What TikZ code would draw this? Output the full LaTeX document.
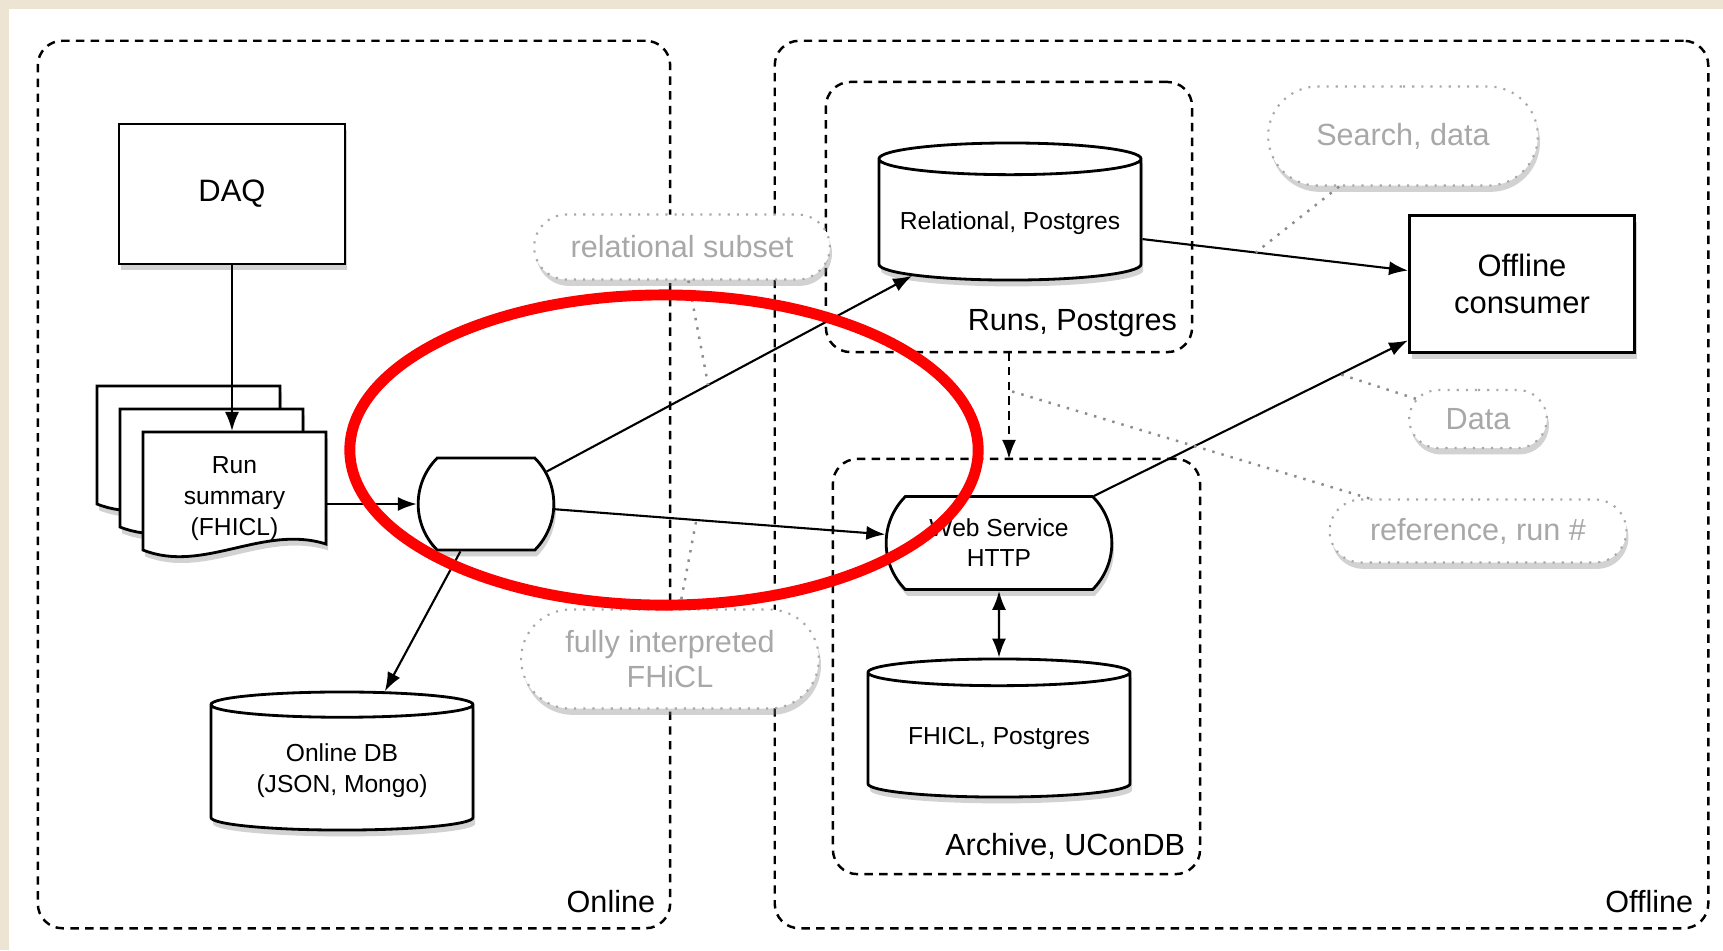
\documentclass[tikz,border=0pt]{standalone}
\usepackage{fontspec}
\setmainfont{Liberation Sans}
\usepackage{tikz}
\usetikzlibrary{calc,shapes.geometric,shapes.misc,shadows,arrows.meta,positioning}
\definecolor{mybeige}{RGB}{238,228,212}
\definecolor{mynotegray}{RGB}{168,168,168}
\definecolor{mylinkgray}{RGB}{140,140,140}
\tikzset{myshadow/.style={drop shadow={shadow xshift=0.6pt,shadow yshift=-1.8pt,opacity=0.35}}}
\tikzstyle{groupbox}=[draw,dash pattern=on 2.4pt off 1.8pt,line width=0.7pt,rounded corners=7pt,inner sep=0pt,outer sep=0pt]
\tikzstyle{grouplabel}=[inner sep=0pt,font=\fontsize{8.7}{10}\selectfont]
\tikzstyle{block}=[draw,fill=white,line width=0.8pt,align=center,myshadow,font=\fontsize{8.8}{10.3}\selectfont]
\tikzstyle{database}=[draw,fill=white,line width=0.8pt,cylinder,shape border rotate=90,aspect=0.13,anchor=shape center,align=center,myshadow,font=\fontsize{7}{9}\selectfont]
\tikzstyle{service}=[draw,fill=white,line width=0.8pt,rounded rectangle,rounded rectangle arc length=90,align=center,myshadow,font=\fontsize{7}{8.5}\selectfont]
\tikzstyle{notepill}=[draw=mynotegray,dotted,line width=0.6pt,fill=white,rounded rectangle,text=mynotegray,align=center,myshadow,font=\fontsize{8.7}{9.7}\selectfont]
\tikzstyle{docpage}=[draw,fill=white,line width=0.8pt,myshadow]
\tikzstyle{link}=[draw=mylinkgray,dotted,line width=0.7pt]

\begin{document}
\begin{tikzpicture}[x=0.01cm,y=-0.01cm,>={Latex[length=5.4pt,width=4pt]},line width=0.6pt]
\fill[mybeige] (0,0) rectangle (1723,950);
\fill[white] (9,9) rectangle (1723,950);
\useasboundingbox (0,0) rectangle (1723,950);
% areas
\node[groupbox,minimum width=6.32cm,minimum height=8.87cm] (online) at (354,484.5) {};
\node[groupbox,minimum width=9.33cm,minimum height=8.87cm] (offline) at (1241.5,484.5) {};
\node[groupbox,minimum width=3.66cm,minimum height=2.70cm] (runs) at (1009,217) {};
\node[groupbox,minimum width=3.67cm,minimum height=4.15cm] (archive) at (1016.5,666.5) {};
\node[grouplabel,anchor=south east] (onlinelbl) at ($(online.south east)+(-14,-14)$) {Online};
\node[grouplabel,anchor=south east] (offlinelbl) at ($(offline.south east)+(-14,-14)$) {Offline};
\node[grouplabel,anchor=south east] (runslbl) at ($(runs.south east)+(-14,-14)$) {Runs, Postgres};
\node[grouplabel,anchor=south east] (archivelbl) at ($(archive.south east)+(-14,-14)$) {Archive, UConDB};
% online side
\node[block,minimum width=2.26cm,minimum height=1.40cm] (daq) at (232,194) {DAQ};
\foreach \d in {46,23,0}{
  \pgfmathsetmacro\px{143-\d}
  \pgfmathsetmacro\py{432-\d}
  \draw[docpage] (\px,\py) -- (\px+183,\py) -- (\px+183,\py+112) .. controls (\px+120,\py+92) and (\px+60,\py+142) .. (\px,\py+118) -- cycle;
}
\node[minimum width=1.83cm,minimum height=1.34cm,align=center,font=\fontsize{7}{8.8}\selectfont] (runsum) at (234.5,499) {Run\\summary\\(FHICL)};
\node[service,minimum width=1.59cm,minimum height=0.92cm] (feeder) at (486,504) {};
\node[database,minimum width=2.62cm,minimum height=1.38cm] (onlinedb) at (342,761) {Online DB\\(JSON, Mongo)};
% offline side
\node[database,minimum width=2.62cm,minimum height=1.37cm] (reldb) at (1010,211.5) {Relational, Postgres};
\node[service,minimum width=2.49cm,minimum height=0.93cm] (websvc) at (999,543) {Web Service\\HTTP};
\node[database,minimum width=2.62cm,minimum height=1.38cm] (fhicldb) at (999,728) {FHICL, Postgres};
\node[block,minimum width=2.25cm,minimum height=1.37cm] (consumer) at (1522,284) {Offline\\consumer};
% notes
\node[notepill,minimum width=3.19cm,minimum height=0.65cm] (relnote) at (682,247) {relational subset};
\node[notepill,minimum width=3.21cm,minimum height=0.99cm] (fullnote) at (670,659) {fully interpreted\\FHiCL};
\node[notepill,minimum width=2.93cm,minimum height=0.99cm] (searchnote) at (1403,136) {Search, data};
\node[notepill,minimum width=1.61cm,minimum height=0.58cm] (datanote) at (1478,419) {Data};
\node[notepill,minimum width=3.20cm,minimum height=0.63cm] (refnote) at (1478,531) {reference, run \#};
% flows
\draw[->] (daq) -- (daq |- runsum.north);
\draw[->] (runsum.east |- feeder.west) -- (feeder.west);
\draw[->] (feeder) -- (reldb);
\draw[->] (feeder) -- (websvc);
\draw[->] (feeder) -- (onlinedb);
\draw[->] (reldb) -- (consumer);
\draw[->] (websvc) -- (consumer);
\draw[<->] (websvc) -- (fhicldb);
\draw[->,dash pattern=on 2.4pt off 1.8pt,line width=0.7pt] (runs.south) -- (runs.south |- archive.north) coordinate[pos=0.36] (refpt);
% note links
\draw[link] (relnote) -- ($(feeder)!0.424!(reldb)$);
\draw[link] (fullnote) -- ($(feeder)!0.41!(websvc)$);
\draw[link] (searchnote) -- ($(reldb)!0.48!(consumer)$);
\draw[link] (datanote) -- ($(websvc)!0.652!(consumer)$);
\draw[link] (refnote) -- (refpt);
% highlight
\node[draw=red,line width=3.1pt,ellipse,minimum width=6.28cm,minimum height=3.1cm,inner sep=0pt] (focus) at (664,450) {};
\end{tikzpicture}
\end{document}
